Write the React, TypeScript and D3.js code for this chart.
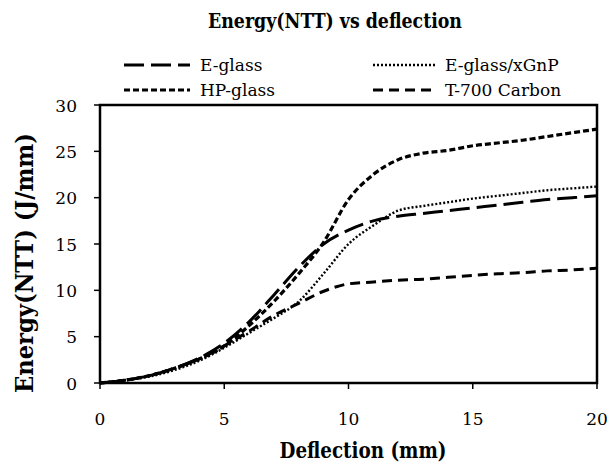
import React from "react";
import * as d3 from "d3";

const deflection = [0, 1, 2, 3, 4, 5, 6, 7, 8, 9, 10, 11, 12, 13, 14, 15, 16, 17, 18, 19, 20];
const eGlass = [0, 0.3, 0.8, 1.6, 2.7, 4.3, 6.6, 9.5, 12.5, 15.0, 16.5, 17.5, 18.0, 18.3, 18.6, 18.9, 19.2, 19.5, 19.8, 20.0, 20.2];
const hpGlass = [0, 0.3, 0.8, 1.6, 2.6, 4.0, 6.2, 8.8, 11.8, 15.2, 19.8, 22.5, 24.1, 24.8, 25.1, 25.6, 25.9, 26.2, 26.6, 27.0, 27.4];
const eGlassXGnP = [0, 0.3, 0.7, 1.4, 2.4, 3.8, 5.4, 7.0, 8.8, 11.8, 15.0, 17.0, 18.6, 19.1, 19.5, 19.9, 20.2, 20.5, 20.8, 21.0, 21.2];
const t700Carbon = [0, 0.3, 0.8, 1.6, 2.6, 4.0, 5.6, 7.3, 8.6, 9.9, 10.7, 10.9, 11.1, 11.2, 11.4, 11.6, 11.8, 11.9, 12.1, 12.2, 12.4];
const xTicks = [0, 5, 10, 15, 20];
const yTicks = [0, 5, 10, 15, 20, 25, 30];

const seriesNames = ["E-glass", "HP-glass", "E-glass/xGnP", "T-700 Carbon"];
const seriesValues = [eGlass, hpGlass, eGlassXGnP, t700Carbon];
const dashes = ["20,7", "6,3", "2,2", "10,6"];
const widths = [3, 3.2, 2.4, 3];

export default function App() {
  const left = 100, right = 597, top = 105, bottom = 383;
  const x = d3.scaleLinear().domain([0, 20]).range([left, right]);
  const y = d3.scaleLinear().domain([0, 30]).range([bottom, top]);
  const line = d3.line<number>().x((_, i) => x(deflection[i])).y((d) => y(d)).curve(d3.curveMonotoneX);
  const bodyFont = "'DejaVu Serif', serif";
  const boldFont = "'DejaVu Serif Condensed', 'DejaVu Serif', serif";
  const legendPos = [
    { x1: 124, x2: 190, y: 65 },
    { x1: 124, x2: 190, y: 90 },
    { x1: 373, x2: 437, y: 65 },
    { x1: 373, x2: 437, y: 90 },
  ];
  const legendTextX = [200, 200, 445, 445];
  return (
    <svg width={610} height={466} style={{ position: "absolute", left: 0, top: 0, fontFamily: bodyFont }}>
      <rect width={610} height={466} fill="#fff" />
      <text x={335} y={28} textAnchor="middle" fontSize={21} fontWeight="bold" style={{ fontFamily: boldFont }} textLength={254} lengthAdjust="spacingAndGlyphs">Energy(NTT) vs deflection</text>
      {seriesNames.map((n, i) => (
        <g key={n}>
          <line x1={legendPos[i].x1} x2={legendPos[i].x2} y1={legendPos[i].y} y2={legendPos[i].y} stroke="#000" strokeWidth={widths[i]} strokeDasharray={dashes[i]} />
          <text x={legendTextX[i]} y={legendPos[i].y + 6} fontSize={17}>{n}</text>
        </g>
      ))}
      {seriesValues.map((vals, i) => (
        <path key={i} d={line(vals) || ""} fill="none" stroke="#000" strokeWidth={widths[i]} strokeDasharray={dashes[i]} />
      ))}
      <rect x={left} y={top} width={right - left} height={bottom - top} fill="none" stroke="#000" strokeWidth={2.5} />
      {yTicks.map((t) => (
        <g key={t}>
          <line x1={left - 6} x2={left} y1={y(t)} y2={y(t)} stroke="#000" strokeWidth={1.5} />
          <text x={77} y={y(t) + 6.5} textAnchor="end" fontSize={17}>{t}</text>
        </g>
      ))}
      {xTicks.map((t) => (
        <g key={t}>
          <line x1={x(t)} x2={x(t)} y1={bottom} y2={bottom + 6} stroke="#000" strokeWidth={1.5} />
          <text x={x(t)} y={425} textAnchor="middle" fontSize={17}>{t}</text>
        </g>
      ))}
      <text x={363} y={458} textAnchor="middle" fontSize={23} fontWeight="bold" style={{ fontFamily: boldFont }} textLength={167} lengthAdjust="spacingAndGlyphs">Deflection (mm)</text>
      <text transform="translate(33,263) rotate(-90)" textAnchor="middle" fontSize={24} fontWeight="bold" style={{ fontFamily: boldFont }} textLength={260} lengthAdjust="spacingAndGlyphs">Energy(NTT) (J/mm)</text>
    </svg>
  );
}
